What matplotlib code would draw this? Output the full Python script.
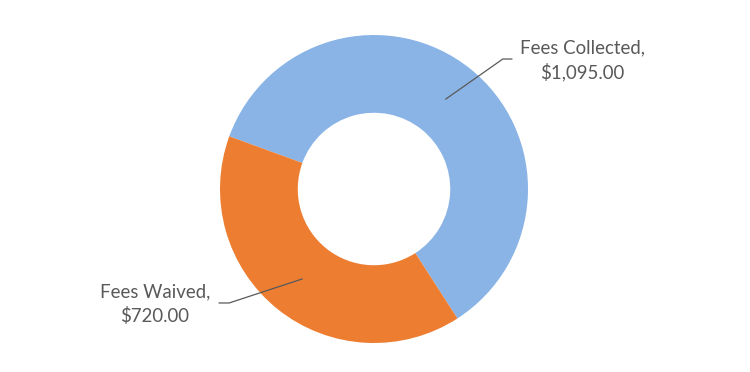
import numpy as np
import matplotlib
matplotlib.use('Agg')
import matplotlib.pyplot as plt

labels = ['Fees Collected', 'Fees Waived']
values = [1095.00, 720.00]
colors = ['#8AB4E6', '#ED7D31']

plt.rcParams['font.family'] = ['Lato', 'DejaVu Sans']

fig = plt.figure(figsize=(7.5, 3.72), dpi=100)
ax = fig.add_axes([0, 0, 1, 1])

cx, cy = 374, 372 - 189
r_out = 154
ring = 0.505

wedges, _ = ax.pie(values, colors=colors, startangle=160, counterclock=False,
                   radius=r_out, center=(cx, cy),
                   wedgeprops=dict(width=r_out * ring, edgecolor='none'))
ax.set_xlim(0, 750)
ax.set_ylim(0, 372)
ax.set_aspect('equal')
ax.axis('off')

# label positions: elbow offset from mid-ring point, text centre
elbows = [(57, 40), (-73, -24)]
ends = [(9, 0), (-10, 0)]
text_pos = [(582, 372 - 60), (155, 372 - 304)]
r_mid = r_out * (1 - ring / 2)
for w, lab, v, el, en, tp in zip(wedges, labels, values, elbows, ends, text_pos):
    ang = np.deg2rad((w.theta1 + w.theta2) / 2)
    x0 = cx + r_mid * np.cos(ang)
    y0 = cy + r_mid * np.sin(ang)
    x1, y1 = x0 + el[0], y0 + el[1]
    x2, y2 = x1 + en[0], y1 + en[1]
    ax.plot([x0, x1, x2], [y0, y1, y2], color='#595959', lw=0.9)
    ax.text(tp[0], tp[1], f'{lab},\n${v:,.2f}', ha='center', va='center',
            fontsize=13.4, color='#595959', linespacing=1.4)

fig.savefig('out.png', dpi=100)
